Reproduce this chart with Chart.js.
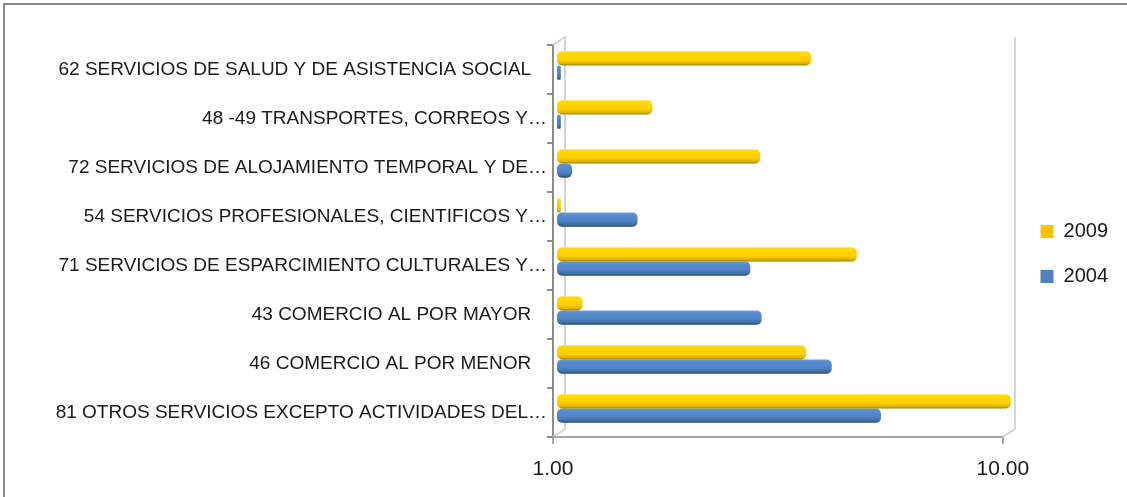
<!DOCTYPE html>
<html><head><meta charset="utf-8">
<script src="https://cdn.jsdelivr.net/npm/chart.js@4.4.1/dist/chart.umd.min.js"></script>
<style>
html,body{margin:0;padding:0;background:#fff;overflow:hidden}
#wrap{position:relative;width:1127px;height:497px;overflow:hidden}
#frame{position:absolute;left:3px;top:3px;width:1200px;height:600px;border:2px solid #8a8a8a;box-sizing:border-box}
canvas{position:absolute;left:0;top:0}
</style></head><body>
<div id="wrap"><div id="frame"></div><canvas id="c" width="1127" height="497"></canvas></div>
<script>
const categories = [
  '62 SERVICIOS DE SALUD Y DE ASISTENCIA SOCIAL   ',
  '48 -49 TRANSPORTES, CORREOS Y\u2026',
  '72 SERVICIOS DE ALOJAMIENTO TEMPORAL Y DE\u2026',
  '54 SERVICIOS PROFESIONALES, CIENTIFICOS Y\u2026',
  '71 SERVICIOS DE ESPARCIMIENTO CULTURALES Y\u2026',
  '43 COMERCIO AL POR MAYOR   ',
  '46 COMERCIO AL POR MENOR   ',
  '81 OTROS SERVICIOS EXCEPTO ACTIVIDADES DEL\u2026'
];
const series2009 = [3.67, 1.63, 2.83, 1.02, 4.64, 1.14, 3.58, 10.2];
const series2004 = [1.02, 1.02, 1.08, 1.51, 2.69, 2.85, 4.08, 5.25];
const seriesNames = ['2009', '2004'];
const seriesSolid = ['#FFC000', '#4F81BD'];
const xTickValues = [1, 10];
const xMin = 1, xMax = 11.17;

const FONT = 'Liberation Sans';
const CAT_PCT = 0.585;

function cylinderFill(stops, solid) {
  return function (c) {
    const chart = c.chart;
    const y = chart.scales && chart.scales.y;
    if (c.type !== 'data' || !chart.chartArea || !y || !y.ticks || !y.ticks.length) return solid;
    const center = y.getPixelForValue(c.dataIndex);
    const row = (y.bottom - y.top) / categories.length;
    const thick = row * CAT_PCT / 2;
    const top = center - thick + c.datasetIndex * thick;
    const g = chart.ctx.createLinearGradient(0, top, 0, top + thick);
    stops.forEach(s => g.addColorStop(s[0], s[1]));
    return g;
  };
}

const depthPlugin = {
  id: 'depth3d',
  afterLayout(chart) {
    const lg = chart.legend;
    if (lg) { lg.top -= 17; lg.bottom -= 17; lg.left -= 9; lg.right -= 9; }
  },
  beforeDatasetsDraw(chart) {
    const {ctx, chartArea: a, scales: {x}} = chart;
    const dx = 12, dy = 8;
    const xl = x.getPixelForValue(1), xr = x.getPixelForValue(10);
    ctx.save();
    ctx.lineWidth = 2;
    ctx.strokeStyle = '#d4d4d4';
    ctx.beginPath();
    ctx.moveTo(xl, a.top); ctx.lineTo(xl + dx, a.top - dy); ctx.lineTo(xl + dx, a.bottom - dy); ctx.lineTo(xl, a.bottom);
    ctx.moveTo(xr, a.bottom); ctx.lineTo(xr + dx, a.bottom - dy); ctx.lineTo(xr + dx, a.top - dy);
    ctx.stroke();
    ctx.strokeStyle = '#a6a6a6';
    ctx.beginPath();
    ctx.moveTo(xl, a.bottom); ctx.lineTo(xr, a.bottom);
    ctx.stroke();
    ctx.restore();
    ctx.save();
    ctx.translate(4, -4);
  },
  afterDatasetsDraw(chart) {
    chart.ctx.restore();
  }
};

new Chart(document.getElementById('c'), {
  type: 'bar',
  data: {
    labels: categories,
    datasets: [
      {
        label: seriesNames[0],
        data: series2009,
        backgroundColor: cylinderFill([[0, '#FFDF40'], [0.12, '#FFD800'], [0.6, '#FFD000'], [0.85, '#E0B400'], [1, '#9C7F00']], seriesSolid[0]),
        borderWidth: 0,
        borderSkipped: false,
        borderRadius: 5,
        clip: false
      },
      {
        label: seriesNames[1],
        data: series2004,
        backgroundColor: cylinderFill([[0, '#6E9EDB'], [0.12, '#5B8FD3'], [0.6, '#4F83C4'], [0.85, '#3F6DA6'], [1, '#22426A']], seriesSolid[1]),
        borderWidth: 0,
        borderSkipped: false,
        borderRadius: 5,
        clip: false
      }
    ]
  },
  options: {
    indexAxis: 'y',
    responsive: false,
    animation: false,
    devicePixelRatio: 1,
    datasets: { bar: { categoryPercentage: CAT_PCT, barPercentage: 1 } },
    layout: { padding: { top: 45, left: 0, right: 0, bottom: 0 } },
    scales: {
      x: {
        type: 'logarithmic',
        min: xMin,
        max: xMax,
        afterBuildTicks(scale) { scale.ticks = xTickValues.map(v => ({ value: v, major: true })); },
        afterFit(scale) { scale.height = 60; },
        ticks: {
          autoSkip: false,
          maxRotation: 0,
          padding: 13,
          color: '#1a1a1a',
          font: { family: FONT, size: 21 },
          callback: v => Number(v).toFixed(2)
        },
        grid: { display: true, drawOnChartArea: false, drawTicks: true, tickLength: 7, color: '#a6a6a6', lineWidth: 2 },
        border: { display: false }
      },
      y: {
        afterFit(scale) { scale.width = 553; },
        ticks: {
          padding: 0,
          color: '#1a1a1a',
          font: { family: FONT, size: 19 }
        },
        grid: { display: true, offset: true, drawOnChartArea: false, drawTicks: true, tickLength: 6, color: '#8c8c8c', lineWidth: 2 },
        border: { display: true, color: '#8c8c8c', width: 2 }
      }
    },
    plugins: {
      legend: {
        position: 'right',
        align: 'center',
        labels: {
          boxWidth: 13,
          boxHeight: 13,
          padding: 25,
          color: '#1a1a1a',
          font: { family: FONT, size: 20 },
          generateLabels(chart) {
            return Chart.defaults.plugins.legend.labels.generateLabels(chart).map((item, i) => ({
              ...item, fillStyle: seriesSolid[i], strokeStyle: seriesSolid[i], lineWidth: 0
            }));
          }
        }
      },
      tooltip: { enabled: false }
    }
  },
  plugins: [depthPlugin]
});
</script>
</body></html>
